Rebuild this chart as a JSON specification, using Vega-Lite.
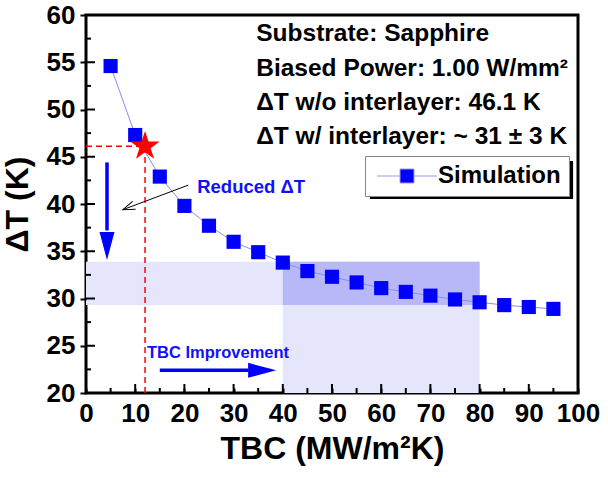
{
  "$schema": "https://vega.github.io/schema/vega-lite/v6.json",
  "width": 492,
  "height": 378,
  "autosize": {"type": "none"},
  "padding": {"left": 86, "top": 15, "right": 30, "bottom": 85},
  "config": {
    "view": {"stroke": "#000000", "strokeWidth": 3},
    "font": "Liberation Sans",
    "axis": {
      "domain": false, "grid": false, "labelOverlap": false, "labelFlush": false,
      "labelFont": "Liberation Sans", "labelFontWeight": "bold", "labelFontSize": 26, "labelColor": "#000000",
      "titleFont": "Liberation Sans", "titleFontWeight": "bold", "titleFontSize": 32, "titleColor": "#000000",
      "tickColor": "#000000", "tickWidth": 2
    }
  },
  "datasets": {
    "sim": [
      {"tbc": 5, "dt": 54.6}, {"tbc": 10, "dt": 47.3}, {"tbc": 15, "dt": 42.9}, {"tbc": 20, "dt": 39.8},
      {"tbc": 25, "dt": 37.7}, {"tbc": 30, "dt": 36.0}, {"tbc": 35, "dt": 34.9}, {"tbc": 40, "dt": 33.8},
      {"tbc": 45, "dt": 32.9}, {"tbc": 50, "dt": 32.3}, {"tbc": 55, "dt": 31.7}, {"tbc": 60, "dt": 31.1},
      {"tbc": 65, "dt": 30.7}, {"tbc": 70, "dt": 30.3}, {"tbc": 75, "dt": 29.9}, {"tbc": 80, "dt": 29.6},
      {"tbc": 85, "dt": 29.3}, {"tbc": 90, "dt": 29.1}, {"tbc": 95, "dt": 28.9}
    ],
    "xMajor": [{"v": 10}, {"v": 20}, {"v": 30}, {"v": 40}, {"v": 50}, {"v": 60}, {"v": 70}, {"v": 80}, {"v": 90}],
    "xMinor": [{"v": 5}, {"v": 15}, {"v": 25}, {"v": 35}, {"v": 45}, {"v": 55}, {"v": 65}, {"v": 75}, {"v": 85}, {"v": 95}],
    "yMajor": [{"v": 25}, {"v": 30}, {"v": 35}, {"v": 40}, {"v": 45}, {"v": 50}, {"v": 55}],
    "yMinor": [{"v": 22.5}, {"v": 27.5}, {"v": 32.5}, {"v": 37.5}, {"v": 42.5}, {"v": 47.5}, {"v": 52.5}, {"v": 57.5}],
    "shades": [
      {"x1": 0, "x2": 80, "y1": 29.3, "y2": 33.9, "kind": "light"},
      {"x1": 40, "x2": 80, "y1": 20, "y2": 33.9, "kind": "light"},
      {"x1": 40, "x2": 80, "y1": 29.3, "y2": 33.9, "kind": "dark"}
    ],
    "guides": [
      {"x1": 0, "x2": 12, "y1": 46.1, "y2": 46.1},
      {"x1": 12, "x2": 12, "y1": 20, "y2": 46.1}
    ],
    "star": [{"tbc": 12, "dt": 46.1}],
    "shafts": [
      {"x1": 4.27, "x2": 4.27, "y1": 44.4, "y2": 37.2},
      {"x1": 15.0, "x2": 33.0, "y1": 22.4, "y2": 22.4}
    ],
    "headDown": [{"x": 4.27, "y": 35.56}],
    "headRight": [{"x": 35.8, "y": 22.4}],
    "pointer": [{"x1": 20.8, "y1": 42.0, "x2": 7.5, "y2": 39.4}],
    "notes": [
      {"x": 34.6, "y": 58.0, "label": "Substrate: Sapphire"},
      {"x": 34.6, "y": 54.3, "label": "Biased Power: 1.00 W/mm²"},
      {"x": 34.6, "y": 50.7, "label": "ΔT w/o interlayer: 46.1 K"},
      {"x": 34.6, "y": 47.1, "label": "ΔT w/ interlayer: ~ 31 ± 3 K"}
    ],
    "reduced": [{"x": 22.6, "y": 41.8, "label": "Reduced ΔT"}],
    "improve": [{"x": 12.4, "y": 24.2, "label": "TBC Improvement"}],
    "shadow": [{"x1": 57.7, "x2": 99.0, "y1": 40.53, "y2": 44.55}]
  },
  "layer": [
    {
      "data": {"name": "shades"},
      "mark": {"type": "rect"},
      "encoding": {
        "x": {"field": "x1", "type": "quantitative", "scale": {"domain": [0, 100], "nice": false, "zero": false},
              "axis": {"orient": "bottom", "values": [0, 5, 10, 15, 20, 25, 30, 35, 40, 45, 50, 55, 60, 65, 70, 75, 80, 85, 90, 95, 100],
                       "labelExpr": "datum.value % 10 === 0 ? datum.label : ''",
                       "ticks": true, "tickSize": -5, "zindex": 2,
                       "labelPadding": 12, "title": "TBC (MW/m²K)", "titlePadding": 7}},
        "x2": {"field": "x2"},
        "y": {"field": "y1", "type": "quantitative", "scale": {"domain": [20, 60], "nice": false, "zero": false},
              "axis": {"orient": "left", "values": [20, 22.5, 25, 27.5, 30, 32.5, 35, 37.5, 40, 42.5, 45, 47.5, 50, 52.5, 55, 57.5, 60],
                       "labelExpr": "datum.value % 5 === 0 ? datum.label : ''",
                       "ticks": true, "tickSize": 6, "zindex": 2,
                       "labelPadding": 5, "title": "ΔT (K)", "titlePadding": 12}},
        "y2": {"field": "y2"},
        "fill": {"field": "kind", "type": "nominal", "scale": {"domain": ["light", "dark"], "range": ["#e5e5fc", "#b8b8f8"]}, "legend": null}
      }
    },
    {
      "data": {"name": "xMajor"},
      "mark": {"type": "tick", "orient": "vertical", "color": "#000000", "size": 9, "thickness": 2, "yOffset": -4.5, "opacity": 1},
      "encoding": {"x": {"field": "v", "type": "quantitative"}, "y": {"datum": 20, "type": "quantitative"}}
    },
    {
      "data": {"name": "xMinor"},
      "mark": {"type": "tick", "orient": "vertical", "color": "#000000", "size": 5, "thickness": 2, "yOffset": -2.5, "opacity": 1},
      "encoding": {"x": {"field": "v", "type": "quantitative"}, "y": {"datum": 20, "type": "quantitative"}}
    },
    {
      "data": {"name": "yMajor"},
      "mark": {"type": "tick", "orient": "horizontal", "color": "#000000", "size": 9, "thickness": 2, "xOffset": 4.5, "opacity": 1},
      "encoding": {"y": {"field": "v", "type": "quantitative"}, "x": {"datum": 0, "type": "quantitative"}}
    },
    {
      "data": {"name": "yMinor"},
      "mark": {"type": "tick", "orient": "horizontal", "color": "#000000", "size": 5, "thickness": 2, "xOffset": 2.5, "opacity": 1},
      "encoding": {"y": {"field": "v", "type": "quantitative"}, "x": {"datum": 0, "type": "quantitative"}}
    },
    {
      "data": {"name": "guides"},
      "mark": {"type": "rule", "color": "#ff0000", "strokeWidth": 1.5, "strokeDash": [6, 4]},
      "encoding": {
        "x": {"field": "x1", "type": "quantitative"}, "x2": {"field": "x2"},
        "y": {"field": "y1", "type": "quantitative"}, "y2": {"field": "y2"}
      }
    },
    {
      "data": {"name": "sim"},
      "mark": {"type": "line", "color": "#8c8cf0", "strokeWidth": 1},
      "encoding": {"x": {"field": "tbc", "type": "quantitative"}, "y": {"field": "dt", "type": "quantitative"}}
    },
    {
      "data": {"name": "sim"},
      "mark": {"type": "point", "shape": "square", "filled": true, "size": 200, "opacity": 1},
      "encoding": {
        "x": {"field": "tbc", "type": "quantitative"}, "y": {"field": "dt", "type": "quantitative"},
        "color": {"datum": "Simulation", "type": "nominal", "scale": {"range": ["#0000ff"]},
          "legend": {
            "orient": "none", "legendX": 279, "legendY": 141, "title": null,
            "fillColor": "#ffffff", "strokeColor": "#888888", "padding": 8, "cornerRadius": 0,
            "symbolType": "M-4.3,0H-1M1,0H4.3M-1,-1H1V1H-1Z", "symbolSize": 196,
            "symbolOffset": 22, "labelOffset": 19,
            "labelFont": "Liberation Sans", "labelFontSize": 24, "labelFontWeight": "bold", "labelColor": "#000000",
            "symbolStrokeColor": "#9a9af0", "symbolStrokeWidth": 1, "symbolFillColor": "#0000ff", "symbolOpacity": 1
          }
        }
      }
    },
    {
      "data": {"name": "star"},
      "mark": {"type": "point", "shape": "M0,-1L0.2245,-0.309L0.951,-0.309L0.3633,0.118L0.588,0.809L0,0.382L-0.588,0.809L-0.3633,0.118L-0.951,-0.309L-0.2245,-0.309Z", "filled": true, "size": 950, "color": "#ff0000", "opacity": 1},
      "encoding": {"x": {"field": "tbc", "type": "quantitative"}, "y": {"field": "dt", "type": "quantitative"}}
    },
    {
      "data": {"name": "shafts"},
      "mark": {"type": "rule", "color": "#0000ff", "strokeWidth": 3.5},
      "encoding": {
        "x": {"field": "x1", "type": "quantitative"}, "x2": {"field": "x2"},
        "y": {"field": "y1", "type": "quantitative"}, "y2": {"field": "y2"}
      }
    },
    {
      "data": {"name": "headDown"},
      "mark": {"type": "point", "shape": "M-1,-1.87L1,-1.87L0,1.87Z", "filled": true, "size": 225, "color": "#0000ff", "opacity": 1},
      "encoding": {"x": {"field": "x", "type": "quantitative"}, "y": {"field": "y", "type": "quantitative"}}
    },
    {
      "data": {"name": "headRight"},
      "mark": {"type": "point", "shape": "M-1.87,-1L-1.87,1L1.87,0Z", "filled": true, "size": 225, "color": "#0000ff", "opacity": 1},
      "encoding": {"x": {"field": "x", "type": "quantitative"}, "y": {"field": "y", "type": "quantitative"}}
    },
    {
      "data": {"name": "pointer"},
      "mark": {"type": "rule", "color": "#000000", "strokeWidth": 1},
      "encoding": {
        "x": {"field": "x1", "type": "quantitative"}, "x2": {"field": "x2"},
        "y": {"field": "y1", "type": "quantitative"}, "y2": {"field": "y2"}
      }
    },
    {
      "data": {"name": "pointer"},
      "mark": {"type": "point", "shape": "M-2,-0.7L0,0L-2,0.7", "filled": false, "size": 144, "color": "#000000", "strokeWidth": 1, "angle": 159, "opacity": 1},
      "encoding": {"x": {"field": "x2", "type": "quantitative"}, "y": {"field": "y2", "type": "quantitative"}}
    },
    {
      "data": {"name": "notes"},
      "mark": {"type": "text", "align": "left", "baseline": "middle", "font": "Liberation Sans", "fontWeight": "bold", "fontSize": 24.5, "color": "#000000"},
      "encoding": {"x": {"field": "x", "type": "quantitative"}, "y": {"field": "y", "type": "quantitative"}, "text": {"field": "label"}}
    },
    {
      "data": {"name": "reduced"},
      "mark": {"type": "text", "align": "left", "baseline": "middle", "font": "Liberation Sans", "fontWeight": "bold", "fontSize": 18.5, "color": "#1010ff"},
      "encoding": {"x": {"field": "x", "type": "quantitative"}, "y": {"field": "y", "type": "quantitative"}, "text": {"field": "label"}}
    },
    {
      "data": {"name": "improve"},
      "mark": {"type": "text", "align": "left", "baseline": "middle", "font": "Liberation Sans", "fontWeight": "bold", "fontSize": 16.5, "color": "#1010ff"},
      "encoding": {"x": {"field": "x", "type": "quantitative"}, "y": {"field": "y", "type": "quantitative"}, "text": {"field": "label"}}
    },
    {
      "data": {"name": "shadow"},
      "mark": {"type": "rect", "color": "#000000"},
      "encoding": {
        "x": {"field": "x1", "type": "quantitative"}, "x2": {"field": "x2"},
        "y": {"field": "y1", "type": "quantitative"}, "y2": {"field": "y2"}
      }
    }
  ]
}
